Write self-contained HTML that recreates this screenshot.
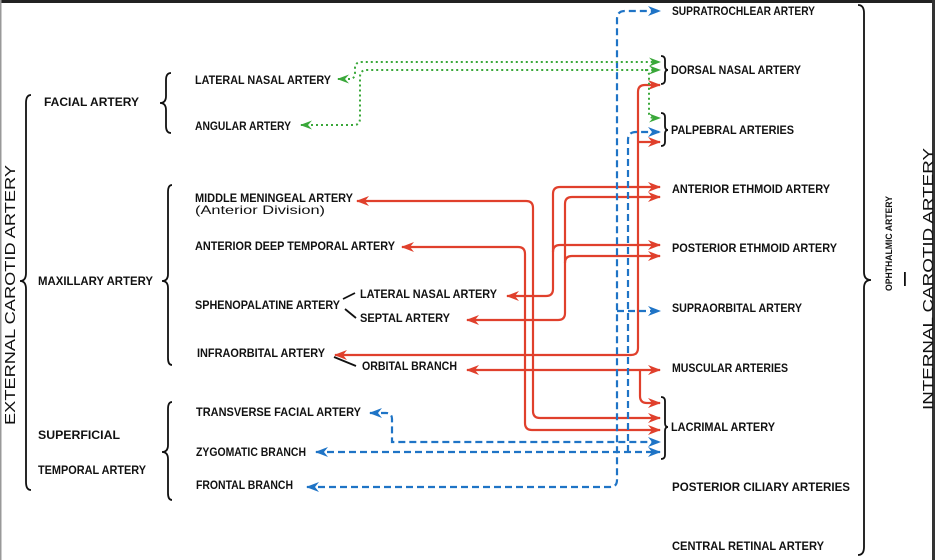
<!DOCTYPE html>
<html><head><meta charset="utf-8"><style>
html,body{margin:0;padding:0;background:#fff;}
svg{display:block;}
text{font-family:"Liberation Sans",sans-serif;font-weight:bold;font-size:12px;fill:#111;}
</style></head><body>
<svg width="935" height="560" viewBox="0 0 935 560" xmlns="http://www.w3.org/2000/svg">
<defs>
<marker id="r" markerUnits="userSpaceOnUse" markerWidth="13" markerHeight="10" refX="12" refY="5" orient="auto-start-reverse"><path d="M0,0 L13,5 L0,10 L4,5z" fill="#e0402c"/></marker>
<marker id="b" markerUnits="userSpaceOnUse" markerWidth="13" markerHeight="10" refX="12" refY="5" orient="auto-start-reverse"><path d="M0,0 L13,5 L0,10 L4,5z" fill="#1f74c6"/></marker>
<marker id="g" markerUnits="userSpaceOnUse" markerWidth="12" markerHeight="9" refX="11" refY="4.5" orient="auto-start-reverse"><path d="M0,0 L12,4.5 L0,9 L4,4.5z" fill="#3aa83a"/></marker>
</defs>
<rect x="0" y="0" width="935" height="3" fill="#222"/>
<rect x="0" y="0" width="1.5" height="560" fill="#999"/>
<rect x="932" y="0" width="3" height="560" fill="#333"/>

<g fill="none" stroke="#111" stroke-width="1.8">
<path d="M31,95 Q26,95 26,103 L26,273 Q26,281 20,281 Q26,281 26,289 L26,482 Q26,490 31,490"/>
<path d="M171,73 Q166,73 166,80 L166,96 Q166,103 160,103 Q166,103 166,110 L166,126 Q166,133 171,133"/>
<path d="M172,185 Q168,185 168,192 L168,274 Q168,281 162,281 Q168,281 168,288 L168,358 Q168,365 172,365"/>
<path d="M172,402 Q168,402 168,409 L168,445 Q168,452 162,452 Q168,452 168,459 L168,493 Q168,500 172,500"/>
<path d="M858,5 Q864,5 864,13 L864,272 Q864,280 871,280 Q864,280 864,288 L864,547 Q864,555 858,555"/>
<path d="M661,56 Q665,56 665,60 L665,66 Q665,70 668,70 Q665,70 665,74 L665,80 Q665,84 661,84"/>
<path d="M661,113 Q665,113 665,117 L665,126 Q665,130 668,130 Q665,130 665,134 L665,142 Q665,146 661,146"/>
<path d="M661,397 Q665,397 665,401 L665,423 Q665,427 668,427 Q665,427 665,431 L665,455 Q665,459 661,459"/>
<path d="M343,299 L355,293 M345,309 L356,318 M334,357 L356,366"/>
</g>

<g fill="none" stroke="#e0402c" stroke-width="2.2">
<path d="M357,201 L526,201 Q533,201 533,208 L533,411 Q533,418 540,418 L660,418" marker-start="url(#r)" marker-end="url(#r)"/>
<path d="M402,247 L518,247 Q525,247 525,254 L525,423 Q525,430 532,430 L660,430" marker-start="url(#r)" marker-end="url(#r)"/>
<path d="M507,296 L546,296 Q553,296 553,289 L553,194 Q553,187 560,187 L660,187" marker-start="url(#r)" marker-end="url(#r)"/>
<path d="M467,320 L558,320 Q565,320 565,313 L565,204 Q565,197 572,197 L660,197" marker-start="url(#r)" marker-end="url(#r)"/>
<path d="M553,252 Q553,245 560,245 L660,245" marker-end="url(#r)"/>
<path d="M565,263 Q565,256 572,256 L660,256" marker-end="url(#r)"/>
<path d="M335,355 L631,355 Q638,355 638,348 L638,92 Q638,85 645,85 L660,85" marker-start="url(#r)" marker-end="url(#r)"/>
<path d="M638,142 L660,142" marker-end="url(#r)"/>
<path d="M467,370 L660,370" marker-start="url(#r)" marker-end="url(#r)"/>
<path d="M640,370 L640,396 Q640,403 647,403 L660,403" marker-end="url(#r)"/>
</g>

<g fill="none" stroke="#1f74c6" stroke-width="2.2" stroke-dasharray="7 4">
<path d="M307,487 L610,487 Q617,487 617,480 L617,19 Q617,11 625,11 L660,11" marker-start="url(#b)" marker-end="url(#b)"/>
<path d="M617,311 L660,311" marker-end="url(#b)"/>
<path d="M628,452 L628,140 Q628,132 636,132 L660,132" marker-end="url(#b)"/>
<path d="M370,413 L386,413 Q392,413 392,419 L392,442 L660,442" marker-start="url(#b)" marker-end="url(#b)"/>
<path d="M316,452 L660,452" marker-start="url(#b)" marker-end="url(#b)"/>
</g>

<g fill="none" stroke="#3aa83a" stroke-width="2" stroke-dasharray="2 3">
<path d="M338,79 L350,79 Q355,79 355,72 L355,68 Q355,62 362,62 L660,62" marker-start="url(#g)" marker-end="url(#g)"/>
<path d="M301,125 L354,125 Q360,125 360,118 L360,77 Q360,70 367,70 L660,70" marker-start="url(#g)" marker-end="url(#g)"/>
<path d="M645,70 Q649,70 649,75 L649,113 Q649,118 654,118 L660,118" marker-end="url(#g)"/>
</g>

<text x="44" y="106" textLength="95" lengthAdjust="spacingAndGlyphs">FACIAL ARTERY</text>
<text x="38" y="285" textLength="115" lengthAdjust="spacingAndGlyphs">MAXILLARY ARTERY</text>
<text x="38" y="439" textLength="82" lengthAdjust="spacingAndGlyphs">SUPERFICIAL</text>
<text x="38" y="474" textLength="108" lengthAdjust="spacingAndGlyphs">TEMPORAL ARTERY</text>
<text x="195" y="84" textLength="136" lengthAdjust="spacingAndGlyphs">LATERAL NASAL ARTERY</text>
<text x="195" y="130" textLength="96" lengthAdjust="spacingAndGlyphs">ANGULAR ARTERY</text>
<text x="195" y="202" textLength="158" lengthAdjust="spacingAndGlyphs">MIDDLE MENINGEAL ARTERY</text>
<text x="195" y="214" textLength="130" lengthAdjust="spacingAndGlyphs" style="font-weight:normal">(Anterior Division)</text>
<text x="195" y="250" textLength="200" lengthAdjust="spacingAndGlyphs">ANTERIOR DEEP TEMPORAL ARTERY</text>
<text x="195" y="309" textLength="145" lengthAdjust="spacingAndGlyphs">SPHENOPALATINE ARTERY</text>
<text x="360" y="298" textLength="137" lengthAdjust="spacingAndGlyphs">LATERAL NASAL ARTERY</text>
<text x="360" y="322" textLength="90" lengthAdjust="spacingAndGlyphs">SEPTAL ARTERY</text>
<text x="197" y="357" textLength="128" lengthAdjust="spacingAndGlyphs">INFRAORBITAL ARTERY</text>
<text x="362" y="370" textLength="95" lengthAdjust="spacingAndGlyphs">ORBITAL BRANCH</text>
<text x="196" y="416" textLength="165" lengthAdjust="spacingAndGlyphs">TRANSVERSE FACIAL ARTERY</text>
<text x="196" y="456" textLength="110" lengthAdjust="spacingAndGlyphs">ZYGOMATIC BRANCH</text>
<text x="196" y="489" textLength="97" lengthAdjust="spacingAndGlyphs">FRONTAL BRANCH</text>

<text x="672" y="15" textLength="143" lengthAdjust="spacingAndGlyphs">SUPRATROCHLEAR ARTERY</text>
<text x="671" y="74" textLength="130" lengthAdjust="spacingAndGlyphs">DORSAL NASAL ARTERY</text>
<text x="671" y="134" textLength="123" lengthAdjust="spacingAndGlyphs">PALPEBRAL ARTERIES</text>
<text x="672" y="193" textLength="158" lengthAdjust="spacingAndGlyphs">ANTERIOR ETHMOID ARTERY</text>
<text x="672" y="252" textLength="165" lengthAdjust="spacingAndGlyphs">POSTERIOR ETHMOID ARTERY</text>
<text x="672" y="312" textLength="130" lengthAdjust="spacingAndGlyphs">SUPRAORBITAL ARTERY</text>
<text x="672" y="372" textLength="116" lengthAdjust="spacingAndGlyphs">MUSCULAR ARTERIES</text>
<text x="671" y="431" textLength="104" lengthAdjust="spacingAndGlyphs">LACRIMAL ARTERY</text>
<text x="672" y="491" textLength="178" lengthAdjust="spacingAndGlyphs">POSTERIOR CILIARY ARTERIES</text>
<text x="672" y="550" textLength="152" lengthAdjust="spacingAndGlyphs">CENTRAL RETINAL ARTERY</text>

<text transform="translate(15,425) rotate(-90)" textLength="260" lengthAdjust="spacingAndGlyphs" style="font-weight:normal;font-size:15px">EXTERNAL CAROTID ARTERY</text>
<text transform="translate(933,410) rotate(-90)" textLength="262" lengthAdjust="spacingAndGlyphs" style="font-weight:normal;font-size:15px">INTERNAL CAROTID ARTERY</text>
<text transform="translate(892,291) rotate(-90)" textLength="95" lengthAdjust="spacingAndGlyphs" style="font-size:9px">OPHTHALMIC ARTERY</text>
<rect x="904" y="272" width="1.8" height="14" fill="#111"/>
</svg>
</body></html>
